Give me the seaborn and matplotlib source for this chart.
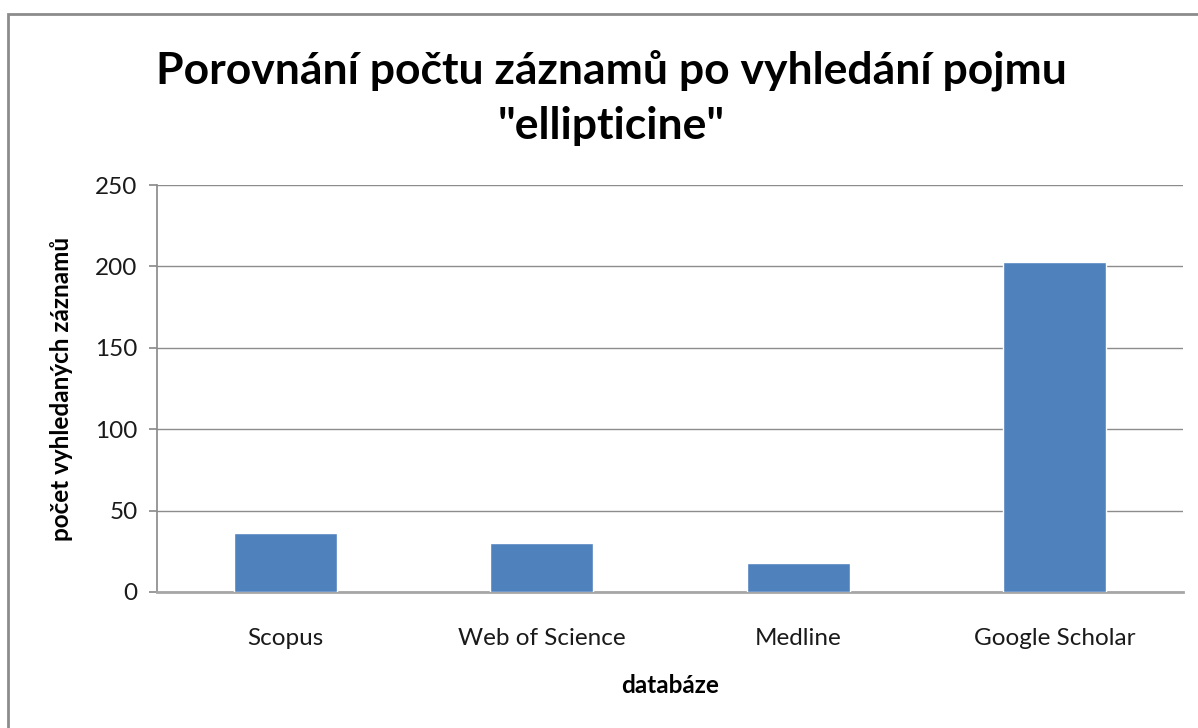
import matplotlib
matplotlib.use("Agg")
import matplotlib.pyplot as plt
import seaborn as sns
import pandas as pd
from matplotlib.patches import Rectangle

# data
databaze = ["Scopus", "Web of Science", "Medline", "Google Scholar"]
pocty = [36, 30, 18, 203]
y_ticks = [0, 50, 100, 150, 200, 250]

df = pd.DataFrame({"databaze": databaze, "pocet": pocty})

sns.set_theme(style="white")
plt.rcParams["font.family"] = ["Lato", "DejaVu Sans"]

fig = plt.figure(figsize=(11.98, 7.28), dpi=100)
ax = fig.add_axes([157 / 1198, 1 - 592 / 728, (1183 - 157) / 1198, (592 - 185) / 728])

sns.barplot(data=df, x="databaze", y="pocet", color="#4F81BD", width=0.4,
            saturation=1, ax=ax, zorder=3)

ax.set_ylim(0, 250)
ax.set_xlim(-0.5, 3.5)
ax.set_yticks(y_ticks)
ax.yaxis.grid(True, color="#8c8c8c", linewidth=1)
ax.set_axisbelow(True)

for s in ["top", "right"]:
    ax.spines[s].set_visible(False)
ax.spines["left"].set_color("#8c8c8c")
ax.spines["bottom"].set_color("#a6a6a6")
ax.spines["bottom"].set_linewidth(2)
ax.tick_params(axis="y", left=True, length=6, color="#8c8c8c", labelsize=17.5, pad=8,
               labelcolor="#1a1a1a")
ax.tick_params(axis="x", bottom=False, labelsize=17.5, pad=20, labelcolor="#1a1a1a")

ax.set_xlabel("databáze", fontsize=17.5, fontweight="bold", labelpad=18, color="black")
ax.set_ylabel("počet vyhledaných záznamů", fontsize=17.5, fontweight="bold", labelpad=16,
              color="black")

fig.text(0.51, 1 - 98 / 728, "Porovnání počtu záznamů po vyhledání pojmu\n\"ellipticine\"",
         ha="center", va="center", fontsize=32, fontweight="bold", linespacing=1.45,
         color="black")

# outer frame of the chart area
fig.patches.append(Rectangle((8 / 1198, -0.01), 1.0, 1 - 14 / 728 + 0.01,
                             transform=fig.transFigure, fill=False,
                             edgecolor="#8c8c8c", linewidth=2))

fig.savefig("out.png", dpi=100)
